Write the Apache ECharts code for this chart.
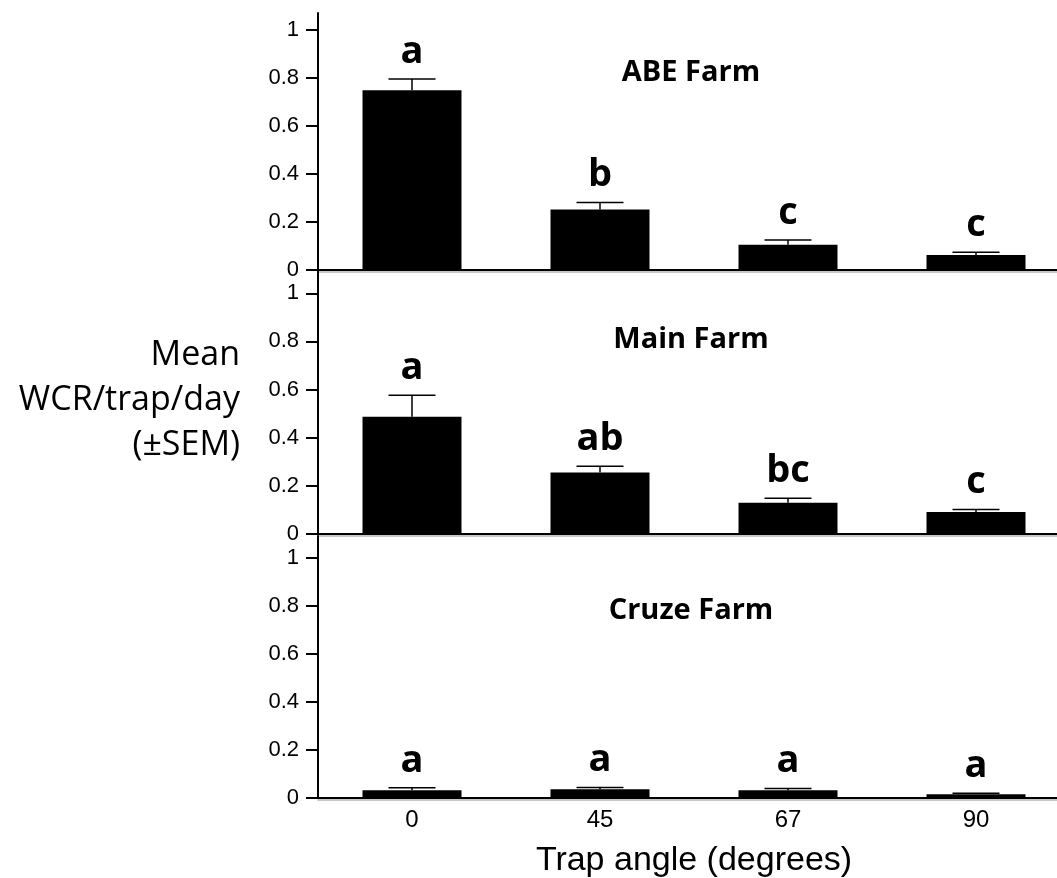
<!DOCTYPE html>
<html>
<head>
<meta charset="utf-8">
<script src="https://cdn.jsdelivr.net/npm/echarts@6/dist/echarts.min.js"></script>
<style>
html,body{margin:0;padding:0;background:#fff;}
#chart{width:1057px;height:878px;}
</style>
</head>
<body>
<div id="chart"></div>
<script>
// ---- data ----
const categories = ['0', '45', '67', '90'];
const farmNames = ['ABE Farm', 'Main Farm', 'Cruze Farm'];
const yTicks = [0, 0.2, 0.4, 0.6, 0.8, 1];

const abeMean = [0.748, 0.250, 0.103, 0.061];
const abeSem = [0.047, 0.030, 0.020, 0.011];
const abeLetters = ['a', 'b', 'c', 'c'];

const mainMean = [0.487, 0.255, 0.130, 0.091];
const mainSem = [0.089, 0.026, 0.019, 0.011];
const mainLetters = ['a', 'ab', 'bc', 'c'];

const cruzeMean = [0.031, 0.035, 0.031, 0.014];
const cruzeSem = [0.010, 0.008, 0.007, 0.005];
const cruzeLetters = ['a', 'a', 'a', 'a'];

const means = [abeMean, mainMean, cruzeMean];
const sems = [abeSem, mainSem, cruzeSem];
const letters = [abeLetters, mainLetters, cruzeLetters];

// ---- layout ----
const panels = [
  { top: 13, height: 256.5, max: 1.07, titleY: 73 },
  { top: 271.6, height: 262.4, max: 1.09, titleY: 340 },
  { top: 536.1, height: 261.6, max: 1.09, titleY: 611 }
];
const gridLeft = 318, gridWidth = 752;

const chart = echarts.init(document.getElementById('chart'), null, { renderer: 'canvas' });

const grids = [], xAxes = [], yAxes = [], series = [], graphics = [];
panels.forEach((p, i) => {
  grids.push({ left: gridLeft, top: p.top, width: gridWidth, height: p.height, containLabel: false, outerBoundsMode: 'none' });
  const last = i === panels.length - 1;
  xAxes.push({
    type: 'category', gridIndex: i, data: categories,
    axisLine: { show: true, lineStyle: { color: '#000', width: 2, shadowColor: 'rgba(0,0,0,0.22)', shadowOffsetY: 2, shadowBlur: 0 } },
    axisTick: { show: false },
    axisLabel: { show: last, color: '#000', fontSize: 24, fontFamily: 'Liberation Sans, Arial, sans-serif', margin: 11 },
    name: last ? 'Trap angle (degrees)' : '',
    nameLocation: 'middle', nameGap: 46,
    nameTextStyle: { color: '#000', fontSize: 34, fontFamily: 'Liberation Sans, Arial, sans-serif' },
    splitLine: { show: false }
  });
  yAxes.push({
    type: 'value', gridIndex: i, min: 0, max: p.max, interval: 0.2,
    axisLine: { show: true, onZero: false, lineStyle: { color: '#000', width: 2 } },
    axisTick: { show: true, inside: false, length: 12, lineStyle: { color: '#000', width: 2 }, customValues: yTicks },
    axisLabel: { color: '#000', fontSize: 22, fontFamily: 'Liberation Sans, Arial, sans-serif', margin: 19, customValues: yTicks },
    splitLine: { show: false }
  });
  series.push({
    type: 'bar', xAxisIndex: i, yAxisIndex: i, data: means[i], barWidth: 99,
    itemStyle: { color: '#000' }, silent: true, z: 2
  });
  series.push({
    type: 'custom', xAxisIndex: i, yAxisIndex: i, z: 3, silent: true,
    data: means[i].map((m, j) => [j, m, sems[i][j]]),
    renderItem: (params, api) => {
      const c = api.value(0), m = api.value(1), s = api.value(2);
      const x = api.coord([c, 0])[0];
      const yM = api.coord([c, m])[1];
      const yT = api.coord([c, m + s])[1];
      const half = api.size([1, 0])[0] * 0.125;
      return {
        type: 'group',
        children: [
          { type: 'line', shape: { x1: x, y1: yM, x2: x, y2: yT }, style: { stroke: '#000', lineWidth: 1.5 } },
          { type: 'line', shape: { x1: x - half, y1: yT, x2: x + half, y2: yT }, style: { stroke: '#000', lineWidth: 1.5 } },
          { type: 'text', x: x, y: yT - 8, style: { text: letters[i][params.dataIndex], fill: '#000', font: 'bold 38px "Open Sans", sans-serif', align: 'center', verticalAlign: 'bottom' } }
        ]
      };
    }
  });
  graphics.push({
    type: 'text', x: 691, y: p.titleY,
    style: { text: farmNames[i], fill: '#000', font: 'bold 29px "Open Sans", sans-serif', align: 'center', verticalAlign: 'middle' }
  });
});

graphics.push({
  type: 'text', x: 240, y: 400,
  style: { text: 'Mean\nWCR/trap/day\n(±SEM)', fill: '#000', font: '34px "Open Sans", sans-serif', lineHeight: 45, align: 'right', verticalAlign: 'middle' }
});

chart.setOption({
  backgroundColor: '#fff',
  animation: false,
  grid: grids,
  xAxis: xAxes,
  yAxis: yAxes,
  series: series,
  graphic: graphics
});
</script>
</body>
</html>
